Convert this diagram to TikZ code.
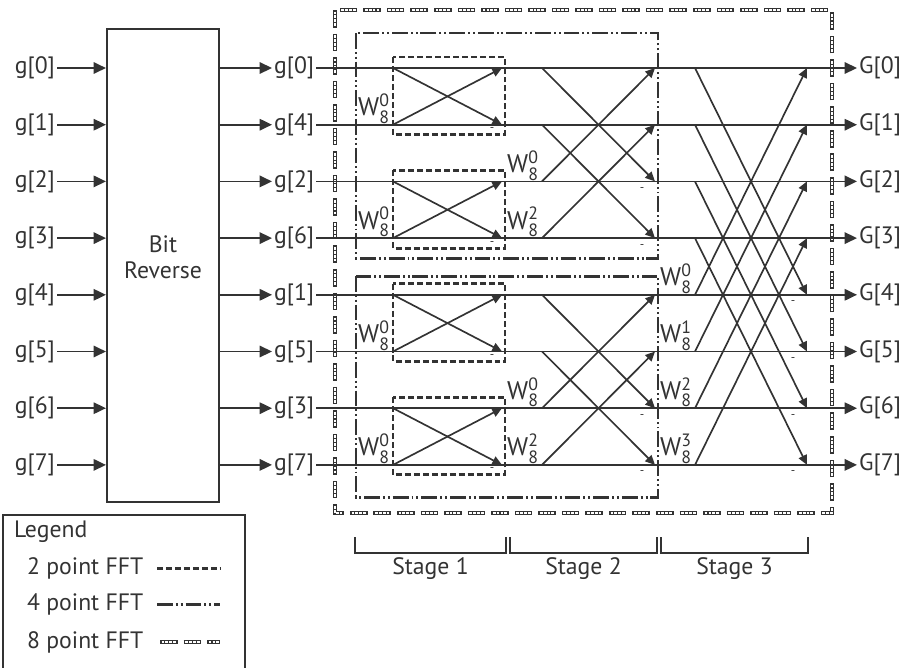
\documentclass[tikz,border=0pt]{standalone}
\usepackage{amsmath}
\usepackage{fontspec}
\setmainfont{PT Sans}
\usetikzlibrary{arrows.meta, positioning, fit, calc}
\definecolor{ink}{HTML}{333333}

\begin{document}
\begin{tikzpicture}[
  x=0.02cm, y=-0.02cm,
  font=\fontsize{13.5}{15}\selectfont, color=ink,
  sig/.style={line width=0.95pt},
  io/.style={sig, -{Triangle[length=7pt, width=6.5pt]}},
  bfly/.style={sig, -{Triangle[length=5.5pt, width=5pt]}},
  lbl/.style={inner sep=1pt},
  revbox/.style={draw, line width=1.2pt, inner sep=0pt, align=center},
  twopt/.style={line width=1.7pt, dash pattern=on 3.4pt off 1.7pt},
  fourpt/.style={line width=1.7pt, dash pattern=on 9pt off 1.7pt on 1.1pt off 1.7pt on 1.1pt off 1.7pt},
  eightpt/.style={line width=2.3pt, dash pattern=on 10pt off 3.4pt,
    postaction={draw=white, line width=0.9pt, dash pattern=on 1.6pt off 0.6pt on 1.6pt off 0.6pt on 1.6pt off 0.6pt on 1.6pt off 5.2pt, dash phase=12.5pt}},
  twid/.style={anchor=base east, inner sep=1pt, font=\fontsize{14.5}{16}\selectfont},
  minus/.style={font=\scriptsize, inner sep=0pt},
  bracket/.style={line width=1pt},
]
\useasboundingbox (0,0) rectangle (917,667);

% FFT groupings
\draw[eightpt] (335,10) rectangle (832,513);
\draw[fourpt] (356,33) rectangle (658,258);
\draw[fourpt] (356,276) rectangle (658,497);

\node[revbox, fit={(107,29) (219,502)}] (rv) {Bit\\Reverse};

% rows: inputs, bit reversed order, outputs
\foreach \i/\k in {0/0,1/4,2/2,3/6,4/1,5/5,6/3,7/7} {
  \pgfmathsetmacro\ry{68+56.7*\i}
  \node[lbl, anchor=east] (in\i) at (57,\ry) {g[\i]};
  \draw[io] (in\i.east) -- (rv.west |- in\i.east);
  \node[lbl, anchor=west] (br\i) at (272,\ry) {g[\k]};
  \draw[io] (rv.east |- br\i.west) -- (br\i.west);
  \node[lbl, anchor=west] (out\i) at (857,\ry) {G[\i]};
  \draw[io] (br\i.east) -- (out\i.west);
  \coordinate (a\i) at (393,\ry);
  \coordinate (b\i) at (502,\ry);
  \coordinate (c\i) at (542,\ry);
  \coordinate (d\i) at (655,\ry);
  \coordinate (e\i) at (695,\ry);
  \coordinate (f\i) at (807,\ry);
}

% stage 1
\foreach \p/\q in {0/1,2/3,4/5,6/7} {
  \draw[twopt] ($(a\p)+(0,-11)$) rectangle ($(a\q)+(112,10)$);
  \draw[bfly] (a\p) -- (b\q);
  \draw[bfly] (a\q) -- (b\p);
  \node[minus] (ma\q) at ($(b\q)+(-10,5)$) {-};
  \node[twid] (wa\q) at ($(a\q)+(-1,-9)$) {W$^{\text{0}}_{\text{8}}$};
}

% stage 2
\foreach \p/\q/\w in {0/2/0,1/3/2,4/6/0,5/7/2} {
  \draw[bfly] (c\p) -- (d\q);
  \draw[bfly] (c\q) -- (d\p);
  \node[minus] (mb\q) at ($(d\q)+(-13,8)$) {-};
  \node[twid] (wb\q) at ($(c\q)+(-1,-9)$) {W$^{\text{\w}}_{\text{8}}$};
}

% stage 3
\foreach \p/\q/\w in {0/4/0,1/5/1,2/6/2,3/7/3} {
  \draw[bfly] (e\p) -- (f\q);
  \draw[bfly] (e\q) -- (f\p);
  \node[minus] (mc\q) at ($(f\q)+(-14,8)$) {-};
  \node[twid] (wc\q) at ($(e\q)+(-1,-9)$) {W$^{\text{\w}}_{\text{8}}$};
}

% stage brackets
\foreach \n/\xl/\xr in {1/355/506,2/510/657,3/661/808} {
  \draw[bracket] (\xl,537) -- (\xl,553) -- (\xr,553) -- (\xr,537);
  \node[lbl, anchor=north] (st\n) at ({(\xl+\xr)/2},555) {Stage \n};
}

% legend
\draw[bracket] (3,670) -- (3,515) -- (245,515) -- (245,670);
\node[lbl, anchor=west] (leg) at (12,532) {Legend};
\node[lbl, anchor=west] (l2) at (25,568) {2 point FFT};
\node[lbl, anchor=west] (l4) at (25,604) {4 point FFT};
\node[lbl, anchor=west] (l8) at (25,642) {8 point FFT};
\draw[twopt] (157,568) -- (220,568);
\draw[fourpt] (157,604) -- (220,604);
\draw[eightpt] (160,642) -- (220,642);
\end{tikzpicture}
\end{document}
